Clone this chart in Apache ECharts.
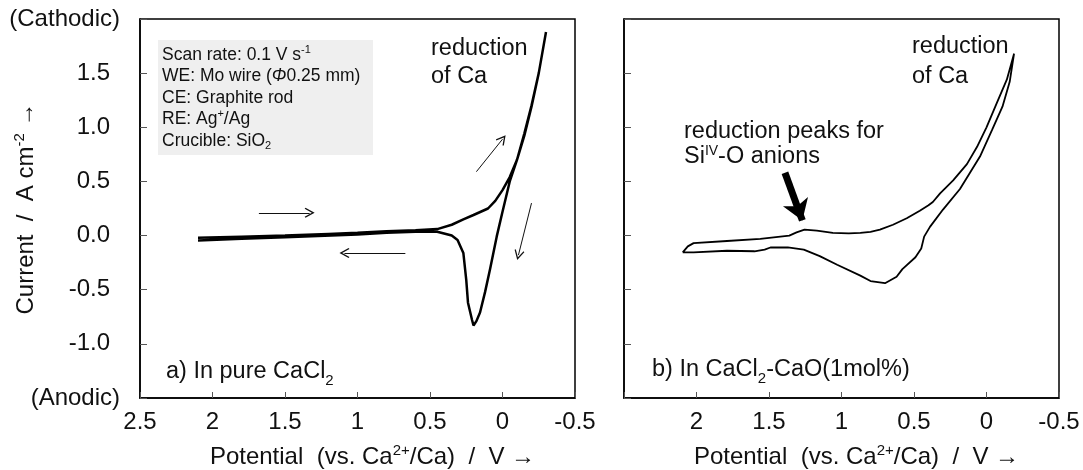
<!DOCTYPE html>
<html>
<head>
<meta charset="utf-8">
<script src="https://cdn.jsdelivr.net/npm/echarts@6/dist/echarts.min.js"></script>
<style>
  html, body { margin: 0; padding: 0; background: #fff; }
  #main { width: 1083px; height: 470px; }
</style>
</head>
<body>
<div id="main"></div>
<script>
// 读图得到的数据 (V vs. Ca2+/Ca, A cm-2)
// a) pure CaCl2, 正向扫描 (cathodic)
var aFwdV = [2.10, 1.80, 1.50, 1.20, 1.00, 0.80, 0.60, 0.45, 0.35, 0.27, 0.20, 0.10, 0.05, 0.00, -0.05, -0.10, -0.15, -0.20, -0.25, -0.30];
var aFwdI = [-0.02, -0.01, 0.00, 0.015, 0.025, 0.04, 0.05, 0.06, 0.10, 0.15, 0.19, 0.25, 0.32, 0.42, 0.54, 0.70, 0.92, 1.19, 1.50, 1.88];
// a) 反向扫描 (anodic)
var aRevV = [-0.30, -0.25, -0.20, -0.15, -0.10, -0.05, 0.00, 0.04, 0.086, 0.12, 0.155, 0.18, 0.20, 0.21, 0.238, 0.25, 0.27, 0.31, 0.35, 0.45, 0.60, 0.80, 1.00, 1.50, 1.80, 2.10];
var aRevI = [1.88, 1.50, 1.20, 0.94, 0.70, 0.50, 0.22, -0.01, -0.31, -0.52, -0.71, -0.79, -0.83, -0.78, -0.62, -0.41, -0.16, -0.04, 0.00, 0.035, 0.035, 0.025, 0.01, -0.015, -0.03, -0.045];
// b) CaCl2-CaO(1mol%)
var bFwdV = [2.095, 2.06, 2.02, 1.79, 1.56, 1.36, 1.31, 1.255, 1.17, 1.06, 0.95, 0.87, 0.80, 0.735, 0.645, 0.55, 0.46, 0.40, 0.37, 0.32, 0.23, 0.135, 0.065, 0.00, -0.07, -0.14, -0.19];
var bFwdI = [-0.155, -0.10, -0.07, -0.05, -0.03, 0.00, 0.03, 0.055, 0.045, 0.025, 0.02, 0.025, 0.035, 0.055, 0.10, 0.16, 0.23, 0.28, 0.31, 0.39, 0.51, 0.66, 0.82, 1.00, 1.22, 1.44, 1.68];
var bRevV = [-0.19, -0.16, -0.11, -0.04, 0.045, 0.114, 0.183, 0.30, 0.39, 0.43, 0.45, 0.49, 0.58, 0.62, 0.70, 0.80, 0.87, 1.03, 1.15, 1.26, 1.37, 1.49, 1.53, 1.60, 1.79, 2.02, 2.095];
var bRevI = [1.68, 1.42, 1.19, 0.98, 0.73, 0.58, 0.43, 0.24, 0.08, -0.01, -0.12, -0.20, -0.31, -0.38, -0.44, -0.42, -0.37, -0.27, -0.19, -0.13, -0.11, -0.11, -0.13, -0.145, -0.14, -0.155, -0.155];

// 坐标轴
var potMin = -0.5, potMax = 2.5, potStep = 0.5;
var curMin = -1.5, curMax = 2.0, curStep = 0.5;

// 箭头 [起点V, 起点I, 终点V, 终点I]
var aArrows = [
  [1.68, 0.21, 1.33, 0.21],
  [0.67, -0.16, 1.09, -0.16],
  [0.18, 0.59, 0.00, 0.89],
  [-0.20, 0.30, -0.11, -0.18]
];
var bArrow = [1.39, 0.58, 1.27, 0.14];

function zip(v, c) {
  var out = [];
  for (var i = 0; i < v.length; i++) out.push([v[i], c[i]]);
  return out;
}

var FONT = 'Liberation Sans, Arial, sans-serif';
var INK = '#111';
var chevron = 'path://M5,0 L10,8.5 L9,9.3 L5,2.6 L1,9.3 L0,8.5 Z';

var chart = echarts.init(document.getElementById('main'));

function xAxisOf(idx, hideMin) {
  return {
    type: 'value', gridIndex: idx, inverse: true,
    min: potMin, max: potMax, interval: potStep,
    name: '{t|Potential  (vs. Ca}{s|2+}{t|/Ca)  /  V →}',
    nameLocation: 'middle', nameGap: 45, nameMoveOverlap: false,
    nameTextStyle: {
      padding: [0, 0, 0, 30],
      rich: {
        t: { fontSize: 24, fontFamily: FONT, color: INK, lineHeight: 28 },
        s: { fontSize: 15, fontFamily: FONT, color: INK, verticalAlign: 'top', lineHeight: 28 }
      }
    },
    axisLine: { onZero: false, lineStyle: { color: '#000', width: 1.5 } },
    axisTick: { inside: true, length: 6, lineStyle: { color: '#555' } },
    splitLine: { show: false },
    axisLabel: {
      fontSize: 24, fontFamily: FONT, color: INK, margin: 12,
      showMinLabel: true, showMaxLabel: true,
      formatter: function (v) { return (hideMin && v === potMax) ? '' : String(v); }
    }
  };
}

function yAxisOf(idx, showLabels) {
  return {
    type: 'value', gridIndex: idx,
    min: curMin, max: curMax, interval: curStep,
    name: showLabels ? '{t|Current  /  A cm}{s|-2}{t| →}' : '',
    nameLocation: 'middle', nameGap: 100, nameRotate: 90, nameMoveOverlap: false,
    nameTextStyle: {
      rich: {
        t: { fontSize: 24, fontFamily: FONT, color: INK, lineHeight: 28 },
        s: { fontSize: 15, fontFamily: FONT, color: INK, verticalAlign: 'top', lineHeight: 28 }
      }
    },
    axisLine: { onZero: false, lineStyle: { color: '#000', width: 1.5 } },
    axisTick: { inside: true, length: 7, lineStyle: { color: '#555' } },
    splitLine: { show: false },
    axisLabel: {
      show: showLabels, margin: 20,
      formatter: function (v) {
        if (v === curMax) return '{e|(Cathodic)}';
        if (v === curMin) return '{e|(Anodic)}';
        return '{n|' + v.toFixed(1) + '}';
      },
      rich: {
        e: { fontSize: 24, fontFamily: FONT, color: INK },
        n: { fontSize: 24, fontFamily: FONT, color: INK, padding: [0, 10, 0, 0] }
      }
    }
  };
}

function arrowLines(list) {
  return list.map(function (a) {
    return [{ coord: [a[0], a[1]] }, { coord: [a[2], a[3]] }];
  });
}

var option = {
  animation: false,
  backgroundColor: '#fff',
  grid: [
    { left: 140, top: 19, width: 435, height: 379, show: true, borderColor: '#000', borderWidth: 1.5, outerBoundsMode: 'none', containLabel: false },
    { left: 624, top: 19, width: 435, height: 379, show: true, borderColor: '#000', borderWidth: 1.5, outerBoundsMode: 'none', containLabel: false }
  ],
  xAxis: [xAxisOf(0, false), xAxisOf(1, true)],
  yAxis: [yAxisOf(0, true), yAxisOf(1, false)],
  series: [
    {
      type: 'line', xAxisIndex: 0, yAxisIndex: 0,
      data: zip(aFwdV, aFwdI).concat(zip(aRevV, aRevI)),
      showSymbol: false, symbol: 'none', smooth: false,
      lineStyle: { color: '#000', width: 2.5 },
      markLine: {
        silent: true, symbol: ['none', chevron], symbolSize: 10,
        label: { show: false },
        lineStyle: { color: '#111', width: 1, type: 'solid' },
        data: arrowLines(aArrows)
      }
    },
    {
      type: 'line', xAxisIndex: 1, yAxisIndex: 1,
      data: zip(bFwdV, bFwdI).concat(zip(bRevV, bRevI)),
      showSymbol: false, symbol: 'none', smooth: false,
      lineStyle: { color: '#000', width: 1.8 },
      markLine: {
        silent: true, symbol: ['none', 'arrow'], symbolSize: 20,
        label: { show: false },
        lineStyle: { color: '#000', width: 7, type: 'solid' },
        data: arrowLines([bArrow])
      }
    }
  ],
  graphic: [
    { type: 'rect', shape: { x: 158, y: 40, width: 215, height: 115 }, style: { fill: '#efefef' }, silent: true },
    {
      type: 'text', x: 162, y: 44, silent: true,
      style: {
        text: 'Scan rate: 0.1 V s{sp|-1}\nWE: Mo wire ({it|Φ}0.25 mm)\nCE: Graphite rod\nRE: Ag{sp|+}/Ag\nCrucible: SiO{sb|2}',
        fontSize: 17.5, fontFamily: FONT, fill: INK, lineHeight: 21.5,
        rich: {
          sp: { fontSize: 11, fontFamily: FONT, fill: INK, verticalAlign: 'top', lineHeight: 21.5 },
          sb: { fontSize: 11, fontFamily: FONT, fill: INK, verticalAlign: 'bottom', lineHeight: 21.5 },
          it: { fontSize: 17.5, fontFamily: FONT, fill: INK, fontStyle: 'italic', lineHeight: 21.5 }
        }
      }
    },
    { type: 'text', x: 431, y: 35, silent: true,
      style: { text: 'reduction\nof Ca', fontSize: 23.5, fontFamily: FONT, fill: INK, lineHeight: 28 } },
    { type: 'text', x: 166, y: 356, silent: true,
      style: { text: 'a) In pure CaCl{sb|2}', fontSize: 23.5, fontFamily: FONT, fill: INK, lineHeight: 28,
        rich: { sb: { fontSize: 15, fontFamily: FONT, fill: INK, verticalAlign: 'bottom', lineHeight: 32 } } } },
    { type: 'text', x: 912, y: 32, silent: true,
      style: { text: 'reduction\nof Ca', fontSize: 23.5, fontFamily: FONT, fill: INK, lineHeight: 30 } },
    { type: 'text', x: 684, y: 119, silent: true,
      style: { text: 'reduction peaks for\nSi{sp|IV}-O anions', fontSize: 23.5, fontFamily: FONT, fill: INK, lineHeight: 25,
        rich: { sp: { fontSize: 14, fontFamily: FONT, fill: INK, verticalAlign: 'top', lineHeight: 25 } } } },
    { type: 'text', x: 652, y: 354, silent: true,
      style: { text: 'b) In CaCl{sb|2}-CaO(1mol%)', fontSize: 23.5, fontFamily: FONT, fill: INK, lineHeight: 28,
        rich: { sb: { fontSize: 15, fontFamily: FONT, fill: INK, verticalAlign: 'bottom', lineHeight: 32 } } } }
  ]
};

chart.setOption(option);
</script>
</body>
</html>
